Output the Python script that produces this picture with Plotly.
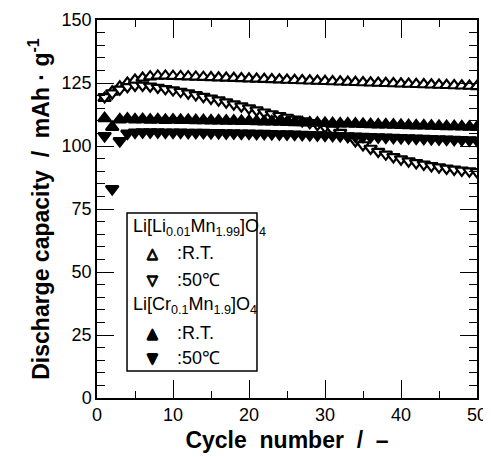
import plotly.graph_objects as go

# cycle number
cycles = list(range(1, 51))

# Li[Li0.01Mn1.99]O4, room temperature (open up-triangles)
li_rt = [119.0, 121.5, 123.5, 125.0, 126.2, 127.0, 127.5, 127.8, 127.8, 127.7,
         127.6, 127.5, 127.4, 127.3, 127.2, 127.1, 127.0, 126.9, 126.8, 126.7,
         126.6, 126.5, 126.4, 126.3, 126.2, 126.1, 126.0, 125.9, 125.8, 125.7,
         125.6, 125.5, 125.4, 125.3, 125.2, 125.1, 125.0, 124.9, 124.8, 124.7,
         124.6, 124.5, 124.4, 124.3, 124.2, 124.1, 124.0, 123.9, 123.8, 123.7]

# Li[Li0.01Mn1.99]O4, 50 C (open down-triangles)
li_50 = [119.5, 121.0, 122.5, 123.5, 124.0, 124.0, 123.7, 123.2, 122.7, 122.2,
         121.6, 121.0, 120.3, 119.6, 118.9, 118.2, 117.4, 116.6, 115.8, 115.0,
         114.2, 113.4, 112.7, 112.0, 111.3, 110.6, 109.9, 109.2, 108.5, 107.6,
         106.6, 105.3, 103.7, 102.0, 100.4, 99.0, 97.8, 96.7, 95.7, 94.8,
         94.0, 93.3, 92.7, 92.1, 91.6, 91.1, 90.7, 90.3, 90.0, 89.7]

# Li[Cr0.1Mn1.9]O4, room temperature (filled up-triangles)
cr_rt = [111.0, 107.5, 110.5, 110.8, 110.5, 110.6, 110.4, 110.5, 110.3, 110.4,
         110.3, 110.3, 110.2, 110.2, 110.1, 110.1, 110.0, 110.0, 109.9, 109.9,
         109.8, 109.7, 109.7, 109.6, 109.5, 109.4, 109.4, 109.3, 109.2, 109.1,
         109.0, 108.9, 108.9, 108.8, 108.7, 108.6, 108.5, 108.5, 108.4, 108.3,
         108.2, 108.1, 108.1, 108.0, 107.9, 107.8, 107.8, 107.7, 107.6, 107.5]

# Li[Cr0.1Mn1.9]O4, 50 C (filled down-triangles)
cr_50 = [104.0, 83.0, 102.0, 105.0, 105.4, 105.5, 105.5, 105.5, 105.4, 105.4,
         105.4, 105.3, 105.3, 105.3, 105.2, 105.2, 105.1, 105.1, 105.0, 105.0,
         104.9, 104.9, 104.8, 104.7, 104.7, 104.6, 104.5, 104.4, 104.3, 104.2,
         104.1, 104.0, 103.9, 103.8, 103.7, 103.6, 103.5, 103.4, 103.3, 103.2,
         103.1, 103.0, 102.9, 102.8, 102.7, 102.6, 102.5, 102.4, 102.3, 102.2]

font = 'Liberation Sans, Arial, sans-serif'

series = [
    (li_rt, 'triangle-up', 'white', 0),
    (li_50, 'triangle-down', 'white', 0),
    (cr_rt, 'triangle-up', 'black', 2),
    (cr_50, 'triangle-down', 'black', 3),
]

fig = go.Figure()

for ys, sym, fill, start in series:
    # smoothed guide line
    fig.add_trace(go.Scatter(
        x=cycles[start:], y=ys[start:], mode='lines',
        line=dict(color='black', width=2.2, shape='spline', smoothing=1.3),
        showlegend=False, hoverinfo='skip',
    ))
for ys, sym, fill, start in series:
    fig.add_trace(go.Scatter(
        x=cycles, y=ys, mode='markers',
        marker=dict(symbol=sym, size=11, color=fill,
                    line=dict(color='black', width=2.2)),
        showlegend=False,
    ))

# legend box drawn by hand
fig.add_shape(type='rect', xref='x', yref='y', x0=3.95, x1=21.05, y0=10.7, y1=73.4,
              line=dict(color='black', width=1.5), fillcolor='white', layer='above')

legend_rows = [
    (4.5, 67.8, 'Li[Li<sub>0.01</sub>Mn<sub>1.99</sub>]O<sub>4</sub>'),
    (7.3, 57.4, '△'),
    (10.2, 57.4, ':R.T.'),
    (7.3, 46.8, '▽'),
    (10.2, 46.8, ':50℃'),
    (4.5, 36.9, 'Li[Cr<sub>0.1</sub>Mn<sub>1.9</sub>]O<sub>4</sub>'),
    (7.3, 25.9, '▲'),
    (10.2, 25.9, ':R.T.'),
    (7.3, 15.9, '▼'),
    (10.2, 15.9, ':50℃'),
]
# thicken the glyph strokes a little so the open triangles look bold
thick = '0.7px 0 0 black, -0.7px 0 0 black, 0 0.7px 0 black, 0 -0.7px 0 black'
for x, y, txt in legend_rows:
    if txt in ('△', '▽', '▲', '▼'):
        fig.add_annotation(x=x, y=y, xref='x', yref='y', text=txt,
                           showarrow=False, xanchor='center', yanchor='middle',
                           font=dict(family='DejaVu Sans', size=14, color='black',
                                     weight='bold', shadow=thick))
    else:
        fig.add_annotation(x=x, y=y, xref='x', yref='y', text=txt, showarrow=False,
                           xanchor='left', yanchor='middle',
                           font=dict(family=font, size=18, color='black'))

axis_common = dict(
    showline=True, linecolor='black', linewidth=1.5, mirror='ticks',
    ticks='inside', tickcolor='black', tickwidth=1.3,
    showgrid=False, zeroline=False, automargin=False,
    tickfont=dict(family=font, size=18, color='black'),
)

fig.update_xaxes(
    range=[0, 50], tick0=0, dtick=10, ticklen=18,
    minor=dict(ticks='inside', dtick=5, ticklen=7, tickcolor='black', tickwidth=1.3),
    title=dict(text='<b>Cycle\u00a0\u00a0number\u00a0\u00a0/\u00a0\u00a0–</b>',
               font=dict(family=font, size=23, color='black'), standoff=8),
    **axis_common,
)
fig.update_yaxes(
    range=[0, 150], tick0=0, dtick=25, ticklen=17,
    minor=dict(ticks='inside', dtick=5, ticklen=8, tickcolor='black', tickwidth=1.3),
    title=dict(text='<b>Discharge\u00a0capacity\u00a0\u00a0/\u00a0\u00a0mAh\u00a0·\u00a0g<sup>-1</sup></b>',
               font=dict(family=font, size=23, color='black'), standoff=6),
    **axis_common,
)

# the page body adds an 8 px offset, so the figure is 8 px smaller on each axis
fig.update_layout(
    width=483, height=449,
    margin=dict(l=89, r=14, t=12, b=59),
    plot_bgcolor='white', paper_bgcolor='white',
    showlegend=False,
)

fig.write_html("out.html")
